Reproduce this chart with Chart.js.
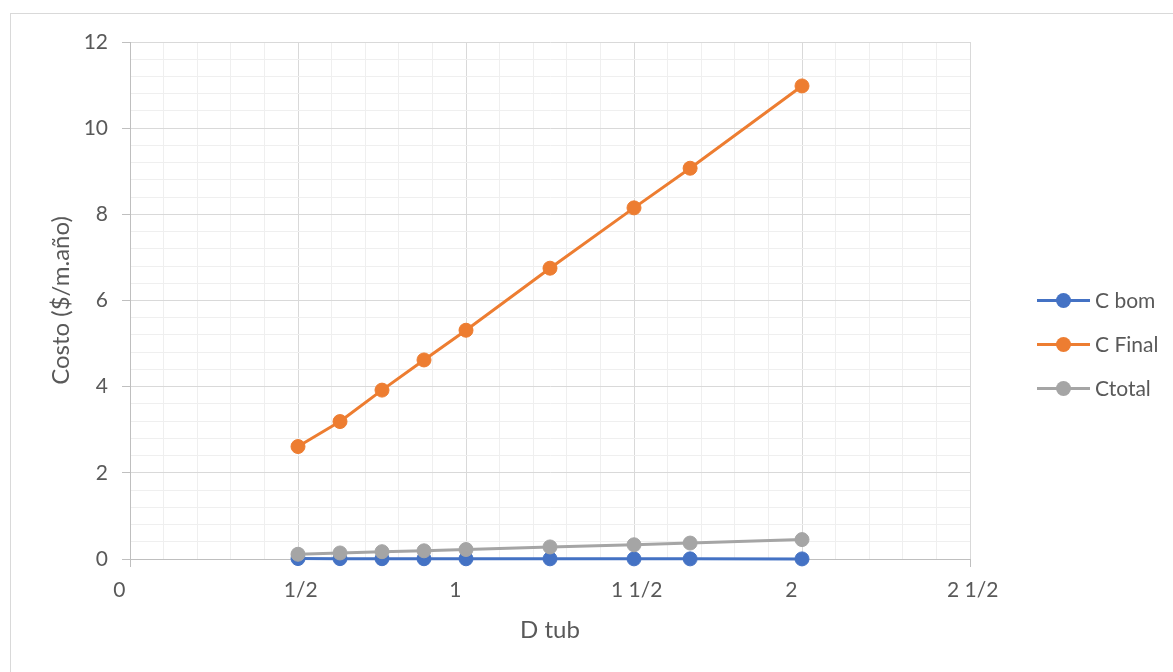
<!DOCTYPE html>
<html>
<head>
<meta charset="utf-8">
<title>Costo vs D tub</title>
<script src="https://cdn.jsdelivr.net/npm/chart.js@4/dist/chart.umd.min.js"></script>
<style>
  html, body { margin: 0; padding: 0; background: #ffffff; overflow: hidden; }
  #wrap { position: relative; width: 1173px; height: 672px; }
  #frame { position: absolute; left: 10px; top: 13px; width: 1300px; height: 800px;
           border-left: 1px solid #d9d9d9; border-top: 1px solid #d9d9d9; pointer-events: none; }
  canvas { position: absolute; left: 0; top: 0; }
</style>
</head>
<body>
<div id="wrap">
  <div id="frame"></div>
  <canvas id="chart" width="1173" height="672"></canvas>
</div>
<script>
// Pipe diameter (in) and yearly cost per metre for each series
const dTub   = [0.5, 0.625, 0.75, 0.875, 1.0, 1.25, 1.5, 1.667, 2.0];
const cBom   = [0.01, 0.008, 0.007, 0.006, 0.005, 0.004, 0.003, 0.003, 0.002];
const cFinal = [2.61, 3.19, 3.92, 4.62, 5.31, 6.75, 8.15, 9.07, 10.98];
const cTotal = [0.11, 0.14, 0.17, 0.19, 0.22, 0.28, 0.33, 0.37, 0.45];

const seriesNames  = ['C bom', 'C Final', 'Ctotal'];
const seriesColors = ['#4472C4', '#ED7D31', '#A5A5A5'];

// Axis tick labels (fractions of an inch) and value ticks
const xTickValues = [0, 0.5, 1, 1.5, 2, 2.5];
const xTickLabels = ['0', '1/2', '1', '1 1/2', '2', '2 1/2'];
const yTickValues = [0, 2, 4, 6, 8, 10, 12];
const yTickLabels = ['0', '2', '4', '6', '8', '10', '12'];

const FONT = 'Lato, "Liberation Sans", sans-serif';
const TEXT = '#595959';
const TICK_SIZE = 21;
const TITLE_SIZE = 24;

const near = (a, b) => Math.abs(a - b) < 1e-6;
const findIdx = (arr, v) => arr.findIndex(t => near(t, v));

// "# ?/?" style: whole numbers keep blank room where the fraction would sit
function fracLabel(i) {
  const s = xTickLabels[i];
  if (s.indexOf('/') === -1) return s + '    ';
  return ' ' + s;
}

const toPoints = ys => ys.map((y, i) => ({ x: dTub[i], y }));

const datasets = [cBom, cFinal, cTotal].map((ys, i) => ({
  label: seriesNames[i],
  data: toPoints(ys),
  borderColor: seriesColors[i],
  backgroundColor: seriesColors[i],
  pointBackgroundColor: seriesColors[i],
  pointBorderColor: seriesColors[i],
  borderWidth: 3,
  pointRadius: 7,
  pointBorderWidth: 1,
  pointHoverRadius: 7,
  borderJoinStyle: 'round',
  borderCapStyle: 'round',
  tension: 0,
  clip: false,
  order: 2 - i
}));

// Legend at the right: line with a round marker, then the series name
const sideLegend = {
  id: 'sideLegend',
  afterDraw(chart) {
    const ctx = chart.ctx;
    const x0 = 1037, x1 = 1090, top = 300.5, gap = 44;
    ctx.save();
    chart.data.datasets.forEach((ds, i) => {
      const y = top + i * gap;
      ctx.strokeStyle = ds.borderColor;
      ctx.lineWidth = 3;
      ctx.lineCap = 'butt';
      ctx.beginPath();
      ctx.moveTo(x0, y);
      ctx.lineTo(x1, y);
      ctx.stroke();
      ctx.fillStyle = ds.borderColor;
      ctx.beginPath();
      ctx.arc((x0 + x1) / 2, y, 7.5, 0, Math.PI * 2);
      ctx.fill();
      ctx.fillStyle = TEXT;
      ctx.font = TICK_SIZE + 'px ' + FONT;
      ctx.textAlign = 'left';
      ctx.textBaseline = 'middle';
      ctx.fillText(ds.label, x1 + 5, y + 1);
    });
    ctx.restore();
  }
};

new Chart(document.getElementById('chart'), {
  type: 'line',
  data: { datasets },
  plugins: [sideLegend],
  options: {
    responsive: false,
    animation: false,
    events: [],
    layout: { padding: { left: 0, top: 42, right: 203, bottom: 0 } },
    plugins: { legend: { display: false }, tooltip: { enabled: false } },
    scales: {
      x: {
        type: 'linear',
        min: 0, max: 2.5,
        afterFit(scale) { scale.height = 113; },
        ticks: {
          stepSize: 0.1,
          autoSkip: false,
          maxRotation: 0,
          padding: 11,
          color: TEXT,
          font: { family: FONT, size: TICK_SIZE },
          callback(v) {
            const i = findIdx(xTickValues, v);
            return i === -1 ? '' : fracLabel(i);
          }
        },
        grid: {
          color: c => findIdx(xTickValues, c.tick.value) === -1 ? '#efefef' : '#d9d9d9',
          lineWidth: 1,
          tickLength: 8,
          tickColor: c => (near(c.tick.value, 0) || near(c.tick.value, 2.5)) ? '#bfbfbf' : 'rgba(0,0,0,0)'
        },
        border: { color: '#bfbfbf', width: 1 },
        title: {
          display: true,
          text: 'D tub',
          color: TEXT,
          font: { family: FONT, size: TITLE_SIZE },
          padding: { top: 0, bottom: 27 }
        }
      },
      y: {
        min: 0, max: 12,
        afterFit(scale) { scale.width = 130; },
        ticks: {
          stepSize: 0.4,
          autoSkip: false,
          padding: 14,
          color: TEXT,
          font: { family: FONT, size: TICK_SIZE },
          callback(v) {
            const i = findIdx(yTickValues, v);
            return i === -1 ? '' : yTickLabels[i];
          }
        },
        grid: {
          color: c => findIdx(yTickValues, c.tick.value) === -1 ? '#efefef' : '#d9d9d9',
          lineWidth: 1,
          tickLength: 8,
          tickColor: c => findIdx(yTickValues, c.tick.value) === -1 ? 'rgba(0,0,0,0)' : '#bfbfbf'
        },
        border: { color: '#bfbfbf', width: 1 },
        title: {
          display: true,
          text: 'Costo ($/m.año)',
          color: TEXT,
          font: { family: FONT, size: TITLE_SIZE },
          padding: { top: 47, bottom: 0 }
        }
      }
    }
  }
});
</script>
</body>
</html>
